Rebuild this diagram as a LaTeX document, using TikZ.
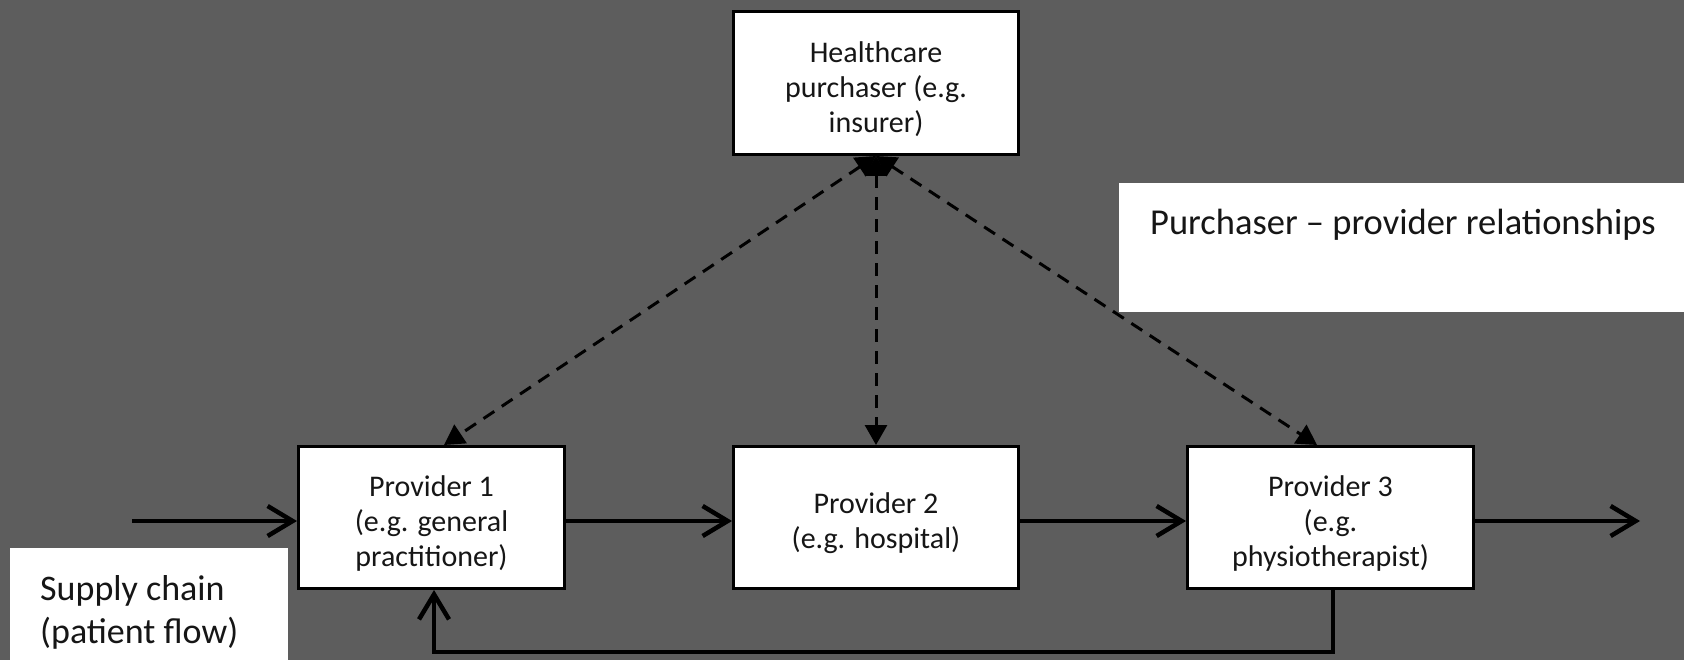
\documentclass[tikz,border=0pt]{standalone}
\usepackage{fontspec}
\setmainfont{Carlito}
\usetikzlibrary{arrows.meta}
\definecolor{bg}{RGB}{93,93,93}
\definecolor{ink}{RGB}{22,22,22}
\newcommand{\firststrut}{\rule{0pt}{33pt}}
\begin{document}
\begin{tikzpicture}[x=1pt,y=-1pt,
  box/.style={draw=black, line width=3pt, fill=white, align=center, text=ink,
    inner sep=0pt, font=\fontsize{30}{35}\selectfont},
  flow/.style={draw=black, line width=4.5pt, -{Straight Barb[length=25pt,width=30pt]}},
  rel/.style={draw=black, line width=3pt, dash pattern=on 13pt off 9pt,
    {Triangle[length=20pt,width=22pt]}-{Triangle[length=20pt,width=22pt]}},
  lbl/.style={text=ink, inner sep=0pt, anchor=base west}
]
\fill[bg] (0,0) rectangle (1684,660);
\useasboundingbox (0,0) rectangle (1684,660);

% label boxes
\fill[white] (1119,183) rectangle (1684,312);
\node[lbl, font=\fontsize{36.5}{43}\selectfont] (prl) at (1150,235) {Purchaser -- provider relationships};
\fill[white] (10,548) rectangle (288,660);
\node[lbl, font=\fontsize{36}{43}\selectfont] (sc1) at (40,600) {Supply chain};
\node[lbl, font=\fontsize{36}{43}\selectfont] (sc2) at (40,643) {(patient flow)};

% nodes
\node[box, minimum width=285pt, minimum height=143pt] (hp) at (876,83) {\firststrut Healthcare\\purchaser (e.g.\\insurer)};
\node[box, minimum width=266pt, minimum height=142pt] (p1) at (431.5,517.5) {\firststrut Provider 1\\(e.g. general\\practitioner)};
\node[box, minimum width=285pt, minimum height=142pt] (p2) at (876,517.5) {\firststrut Provider 2\\(e.g. hospital)};
\node[box, minimum width=286pt, minimum height=142pt] (p3) at (1330.5,517.5) {\firststrut Provider 3\\(e.g.\\physiotherapist)};

\coordinate (in) at (132,521);
\coordinate (out) at (1640,521);

% supply chain
\draw[flow] (in) -- (in -| p1.west);
\draw[flow] (p1.east |- in) -- (p2.west |- in);
\draw[flow] (p2.east |- in) -- (p3.west |- in);
\draw[flow] (p3.east |- in) -- (out);
\draw[flow] ([xshift=2.5pt]p3.south) -- ++(0,62) -| ([xshift=2.5pt]p1.south);

% purchaser relationships
\draw[rel] (hp.south) -- ([xshift=12.5pt]p1.north);
\draw[rel] (hp.south) -- (p2.north);
\draw[rel] (hp.south) -- ([xshift=-13.5pt]p3.north);
\end{tikzpicture}
\end{document}
